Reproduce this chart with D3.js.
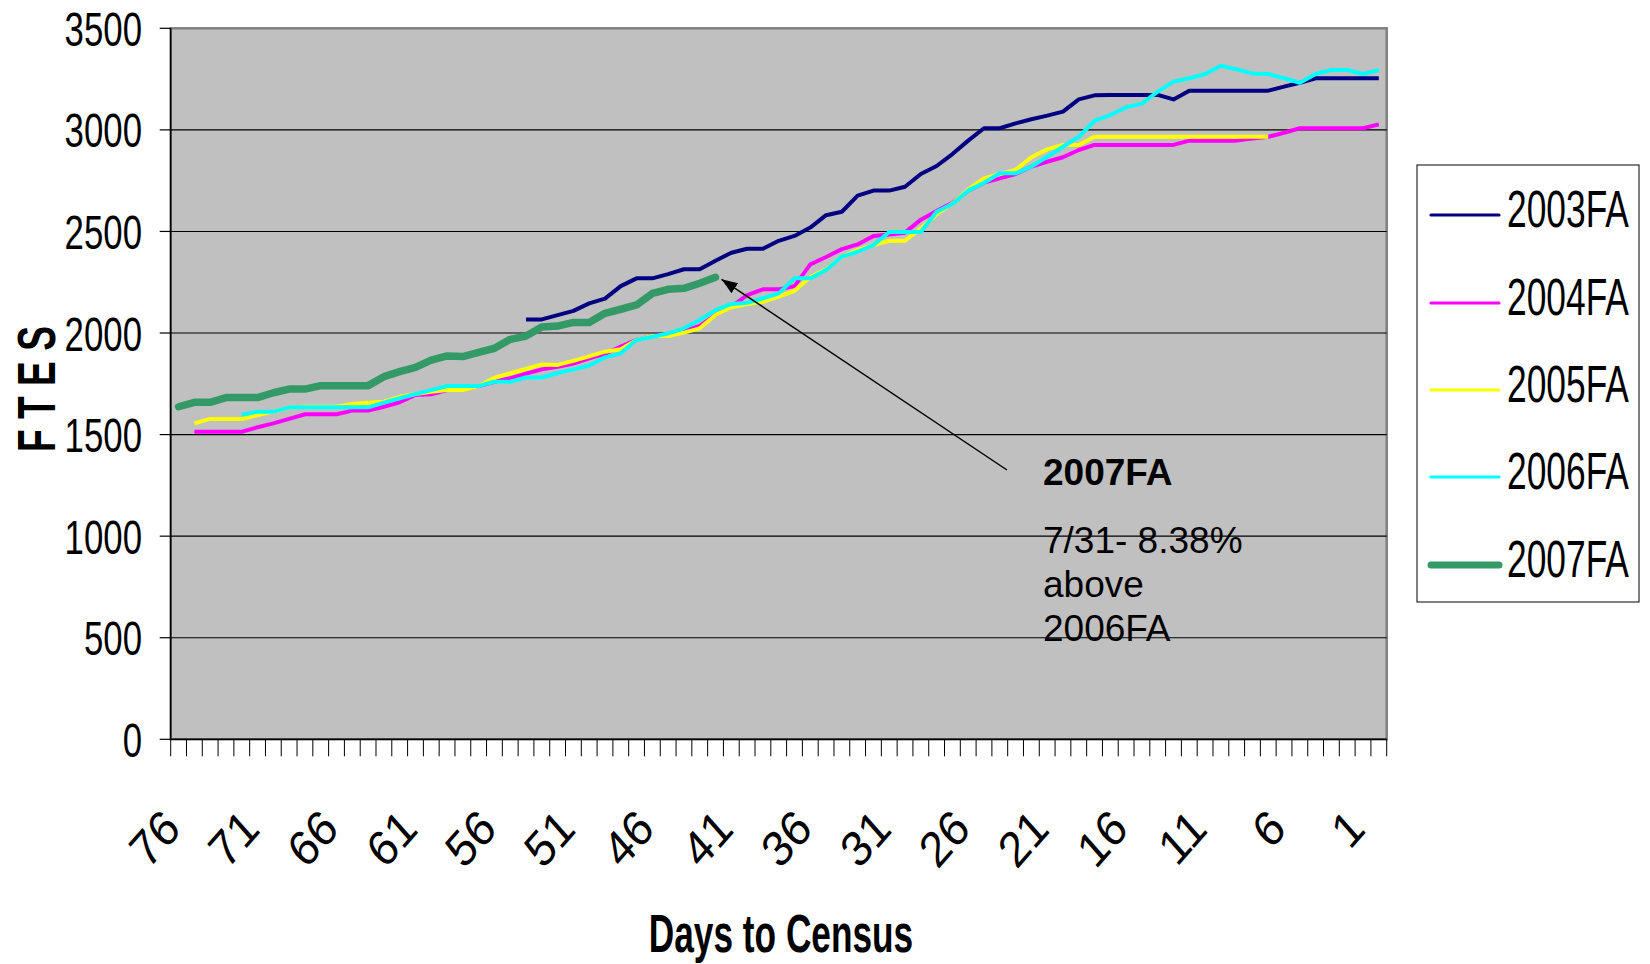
<!DOCTYPE html>
<html><head><meta charset="utf-8">
<script src="https://cdn.jsdelivr.net/npm/d3@7"></script>
<style>body{margin:0;background:#fff}svg{display:block}</style>
</head><body><svg id="c" width="1650" height="964"></svg>
<script>
// ---- data ----
const days = [76,75,74,73,72,71,70,69,68,67,66,65,64,63,62,61,60,59,58,57,56,55,54,53,52,51,50,49,48,47,46,45,44,43,42,41,40,39,38,37,36,35,34,33,32,31,30,29,28,27,26,25,24,23,22,21,20,19,18,17,16,15,14,13,12,11,10,9,8,7,6,5,4,3,2,1,0];
const xTickLabels = ["76","71","66","61","56","51","46","41","36","31","26","21","16","11","6","1"];
const yTicks = [0,500,1000,1500,2000,2500,3000,3500];
const seriesNames = ["2003FA","2004FA","2005FA","2006FA","2007FA"];

// values listed from the first day each series has data (days run 76 -> 0)
const start2003 = 54;
const v2003 = [2067,2067,2088,2109,2146,2169,2231,2269,2269,2290,2314,2314,2356,2395,2415,2415,2454,2478,2519,2580,2597,2676,2701,2701,2720,2783,2822,2881,2947,3008,3008,3032,3052,3070,3090,3150,3170,3172,3172,3172,3172,3150,3193,3193,3193,3193,3193,3193,3213,3232,3254,3254,3254,3254,3254];
const start2004 = 75;
const v2004 = [1514,1514,1514,1514,1536,1555,1577,1600,1600,1600,1618,1618,1637,1659,1695,1698,1719,1723,1739,1760,1777,1800,1821,1834,1850,1875,1897,1933,1966,1985,1990,2011,2035,2089,2130,2187,2215,2215,2231,2338,2374,2413,2436,2478,2485,2494,2558,2600,2641,2701,2740,2761,2783,2819,2843,2865,2901,2926,2926,2926,2926,2926,2926,2947,2947,2947,2947,2958,2966,2986,3008,3008,3008,3008,3008,3027];
const start2005 = 75;
const v2005 = [1555,1577,1577,1577,1596,1613,1634,1637,1637,1637,1651,1657,1662,1686,1700,1711,1719,1719,1739,1780,1802,1823,1845,1843,1863,1885,1908,1920,1966,1985,1985,2002,2023,2089,2127,2143,2154,2179,2208,2275,2314,2375,2409,2433,2454,2454,2515,2585,2638,2707,2761,2783,2803,2865,2904,2926,2926,2966,2966,2966,2966,2966,2966,2966,2966,2966,2966,2966,2966];
const start2006 = 72;
const v2006 = [1598,1613,1613,1634,1634,1634,1634,1634,1634,1657,1679,1700,1719,1739,1739,1739,1760,1760,1781,1781,1803,1821,1840,1880,1900,1966,1982,1998,2023,2064,2113,2143,2149,2171,2195,2269,2269,2310,2376,2400,2433,2497,2497,2497,2597,2635,2701,2740,2786,2786,2819,2868,2917,2966,3045,3073,3111,3129,3188,3237,3254,3275,3316,3298,3278,3275,3254,3232,3275,3295,3295,3275,3295];
const start2007 = 76;
const v2007 = [1637,1659,1659,1682,1682,1682,1706,1724,1724,1741,1741,1741,1741,1785,1810,1831,1867,1887,1884,1905,1925,1969,1985,2030,2034,2052,2052,2097,2117,2138,2195,2215,2220,2245,2274];

const starts = [start2003,start2004,start2005,start2006,start2007];
const vals = [v2003,v2004,v2005,v2006,v2007];
const colors = ["#000080","#ff00ff","#ffff00","#00ffff","#339966"];
const widths = [4,4,4,4,7.5];

// ---- layout ----
const FONT = '"Liberation Sans", Arial, sans-serif';
const P = {l:170.7, r:1386.7, t:28.3, b:739.3};
const svg = d3.select('#c');
svg.append('rect').attr('width',1650).attr('height',964).attr('fill','#fff');

const x = d3.scaleBand().domain(days).range([P.l, P.r]).padding(0);
const y = d3.scaleLinear().domain([0,3500]).range([P.b, P.t]);
const bw = x.bandwidth();
const cx = d => x(d) + bw/2;

// plot area
svg.append('rect').attr('x',P.l).attr('y',P.t).attr('width',P.r-P.l).attr('height',P.b-P.t)
  .attr('fill','#c0c0c0').attr('stroke','#808080').attr('stroke-width',2.5);

// gridlines
svg.append('g').selectAll('line').data(yTicks.filter(v=>v>0 && v<3500)).join('line')
  .attr('x1',P.l).attr('x2',P.r).attr('y1',d=>y(d)).attr('y2',d=>y(d))
  .attr('stroke','#000').attr('stroke-width',1.1);

// y axis
const ya = svg.append('g');
ya.append('line').attr('x1',P.l).attr('x2',P.l).attr('y1',P.t).attr('y2',P.b).attr('stroke','#000').attr('stroke-width',1.5);
ya.selectAll('line.t').data(yTicks).join('line').attr('class','t')
  .attr('x1',P.l-11).attr('x2',P.l).attr('y1',d=>y(d)).attr('y2',d=>y(d)).attr('stroke','#000').attr('stroke-width',1.2);
ya.selectAll('text').data(yTicks).join('text')
  .attr('transform',d=>`translate(142,${y(d)+17.5}) scale(0.71,1)`)
  .attr('text-anchor','end').attr('font-family',FONT).attr('font-size',49).attr('fill','#000')
  .text(d=>d);

// x axis
const xa = svg.append('g');
xa.append('line').attr('x1',P.l).attr('x2',P.r).attr('y1',P.b).attr('y2',P.b).attr('stroke','#000').attr('stroke-width',1.5);
const edges = days.map(d=>x(d)).concat([P.r]);
xa.selectAll('line.t').data(edges).join('line').attr('class','t')
  .attr('x1',d=>d).attr('x2',d=>d).attr('y1',P.b).attr('y2',P.b+17).attr('stroke','#000').attr('stroke-width',1);
xa.selectAll('text').data(xTickLabels).join('text')
  .attr('transform',d=>`translate(${cx(+d)+4},831) scale(0.88,1) rotate(-45)`)
  .attr('text-anchor','end').attr('font-family',FONT).attr('font-size',50).attr('fill','#000')
  .text(d=>d);

// series
const line = d3.line().defined(p=>p.v!=null).x(p=>cx(p.d)).y(p=>y(p.v));
vals.forEach((arr,k)=>{
  const pts = arr.map((v,j)=>({d:starts[k]-j, v:v}));
  svg.append('path').datum(pts).attr('d',line).attr('fill','none')
    .attr('stroke',colors[k]).attr('stroke-width',widths[k])
    .attr('stroke-linejoin','round').attr('stroke-linecap', k===4?'round':'butt');
});

// axis titles
svg.append('text').attr('transform','translate(781,952) scale(0.665,1)')
  .attr('text-anchor','middle').attr('font-family',FONT).attr('font-weight','bold').attr('font-size',53)
  .text('Days to Census');
svg.append('text').attr('transform','translate(55,389) rotate(-90)')
  .attr('text-anchor','middle').attr('font-family',FONT).attr('font-weight','bold').attr('font-size',54)
  .attr('textLength',126).attr('lengthAdjust','spacingAndGlyphs')
  .text('F T E S');

// legend
const lg = svg.append('g');
lg.append('rect').attr('x',1417).attr('y',165).attr('width',222).attr('height',437).attr('fill','#fff').attr('stroke','#000').attr('stroke-width',1);
const legY = [215,303,390,477,565];
seriesNames.forEach((n,k)=>{
  lg.append('line').attr('x1',1431).attr('x2',1499).attr('y1',legY[k]).attr('y2',legY[k])
    .attr('stroke',colors[k]).attr('stroke-width',k===4?7:3.2).attr('stroke-linecap','round');
  lg.append('text').attr('transform',`translate(1507,${legY[k]+12}) scale(0.68,1)`)
    .attr('font-family',FONT).attr('font-size',52).text(n);
});

// annotation
const defs = svg.append('defs');
defs.append('marker').attr('id','ah').attr('viewBox','0 0 16 12').attr('refX',16).attr('refY',6)
  .attr('markerWidth',16).attr('markerHeight',12).attr('markerUnits','userSpaceOnUse').attr('orient','auto')
  .append('path').attr('d','M0,0L16,6L0,12z').attr('fill','#000');
const lastJ = v2007.length-1;
const tipX = cx(start2007-lastJ)+6, tipY = y(v2007[lastJ])+2;
svg.append('line').attr('x1',1007).attr('y1',470).attr('x2',tipX).attr('y2',tipY)
  .attr('stroke','#000').attr('stroke-width',1.5).attr('marker-end','url(#ah)');
const ann = svg.append('g').attr('font-family',FONT).attr('font-size',37).attr('fill','#000');
ann.append('text').attr('x',1043).attr('y',485).attr('font-weight','bold').text('2007FA');
ann.append('text').attr('x',1043).attr('y',553).text('7/31- 8.38%');
ann.append('text').attr('x',1043).attr('y',597).text('above');
ann.append('text').attr('x',1043).attr('y',641).text('2006FA');
</script></body></html>
